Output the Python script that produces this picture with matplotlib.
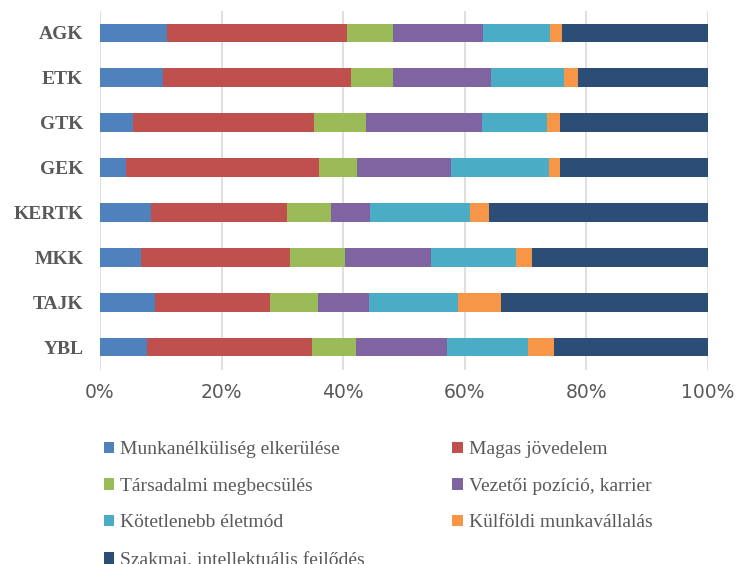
import matplotlib
matplotlib.use("Agg")
import matplotlib.pyplot as plt
from matplotlib.patches import Patch

categories = ["AGK", "ETK", "GTK", "GEK", "KERTK", "MKK", "TAJK", "YBL"]

munkanelkuliseg = [11.1, 10.4, 5.4, 4.3, 8.4, 6.8, 9.0, 7.8]
magas_jovedelem = [29.6, 30.9, 29.8, 31.8, 22.3, 24.5, 19.0, 27.1]
tarsadalmi = [7.5, 6.9, 8.6, 6.1, 7.3, 9.0, 7.9, 7.2]
vezetoi = [14.8, 16.1, 19.0, 15.5, 6.3, 14.1, 8.4, 14.9]
kotetlenebb = [11.1, 12.0, 10.7, 16.2, 16.5, 13.9, 14.5, 13.4]
kulfoldi = [2.0, 2.3, 2.2, 1.8, 3.1, 2.7, 7.2, 4.2]
szakmai = [24.0, 21.4, 24.3, 24.3, 36.0, 28.9, 34.0, 25.4]

series_names = [
    "Munkanélküliség elkerülése",
    "Magas jövedelem",
    "Társadalmi megbecsülés",
    "Vezetői pozíció, karrier",
    "Kötetlenebb életmód",
    "Külföldi munkavállalás",
    "Szakmai, intellektuális fejlődés",
]
series_values = [munkanelkuliseg, magas_jovedelem, tarsadalmi, vezetoi,
                 kotetlenebb, kulfoldi, szakmai]
colors = ["#4F81BD", "#C0504D", "#9BBB59", "#8064A2", "#4BACC6", "#F79646", "#2C4D75"]
xtick_values = [0, 20, 40, 60, 80, 100]
xtick_labels = ["0%", "20%", "40%", "60%", "80%", "100%"]

fig = plt.figure(figsize=(7.36, 5.64), dpi=100)
ax = fig.add_axes([100/736, 1 - 369.5/564, 608/736, 359/564])

n = len(categories)
ypos = list(range(n))
left = [0.0] * n
for name, vals, col in zip(series_names, series_values, colors):
    tot = [sum(v[i] for v in series_values) for i in range(n)]
    pct = [vals[i] / tot[i] * 100 for i in range(n)]
    ax.barh(ypos, pct, left=left, height=0.42, color=col, label=name, zorder=3)
    left = [l + p for l, p in zip(left, pct)]

ax.set_xlim(0, 100)
ax.set_ylim(n - 0.5, -0.5)
ax.set_yticks(ypos)
ax.set_yticklabels(categories, fontfamily="Liberation Serif", fontweight="bold",
                   fontsize=14, color="#595959")
ax.set_xticks(xtick_values)
ax.set_xticklabels(xtick_labels, fontsize=13.5, color="#595959")
ax.tick_params(axis="both", length=0)
ax.tick_params(axis="y", pad=12)
ax.tick_params(axis="x", pad=10)
for s in ax.spines.values():
    s.set_visible(False)
ax.grid(axis="x", color="#D9D9D9", linewidth=1.2, zorder=0)

handles = [Patch(facecolor=c) for c in colors]
order = [0, 2, 4, 6, 1, 3, 5]
leg = fig.legend([handles[i] for i in order], [series_names[i] for i in order],
                 ncol=2, loc="upper left", bbox_to_anchor=(86/736, 1 - 424/564),
                 frameon=False, prop={"family": "Liberation Serif", "size": 14},
                 handlelength=0.55, handleheight=0.55, handletextpad=0.3,
                 labelspacing=1.0, columnspacing=4.5, labelcolor="#595959")

fig.savefig("out.png", dpi=100)
